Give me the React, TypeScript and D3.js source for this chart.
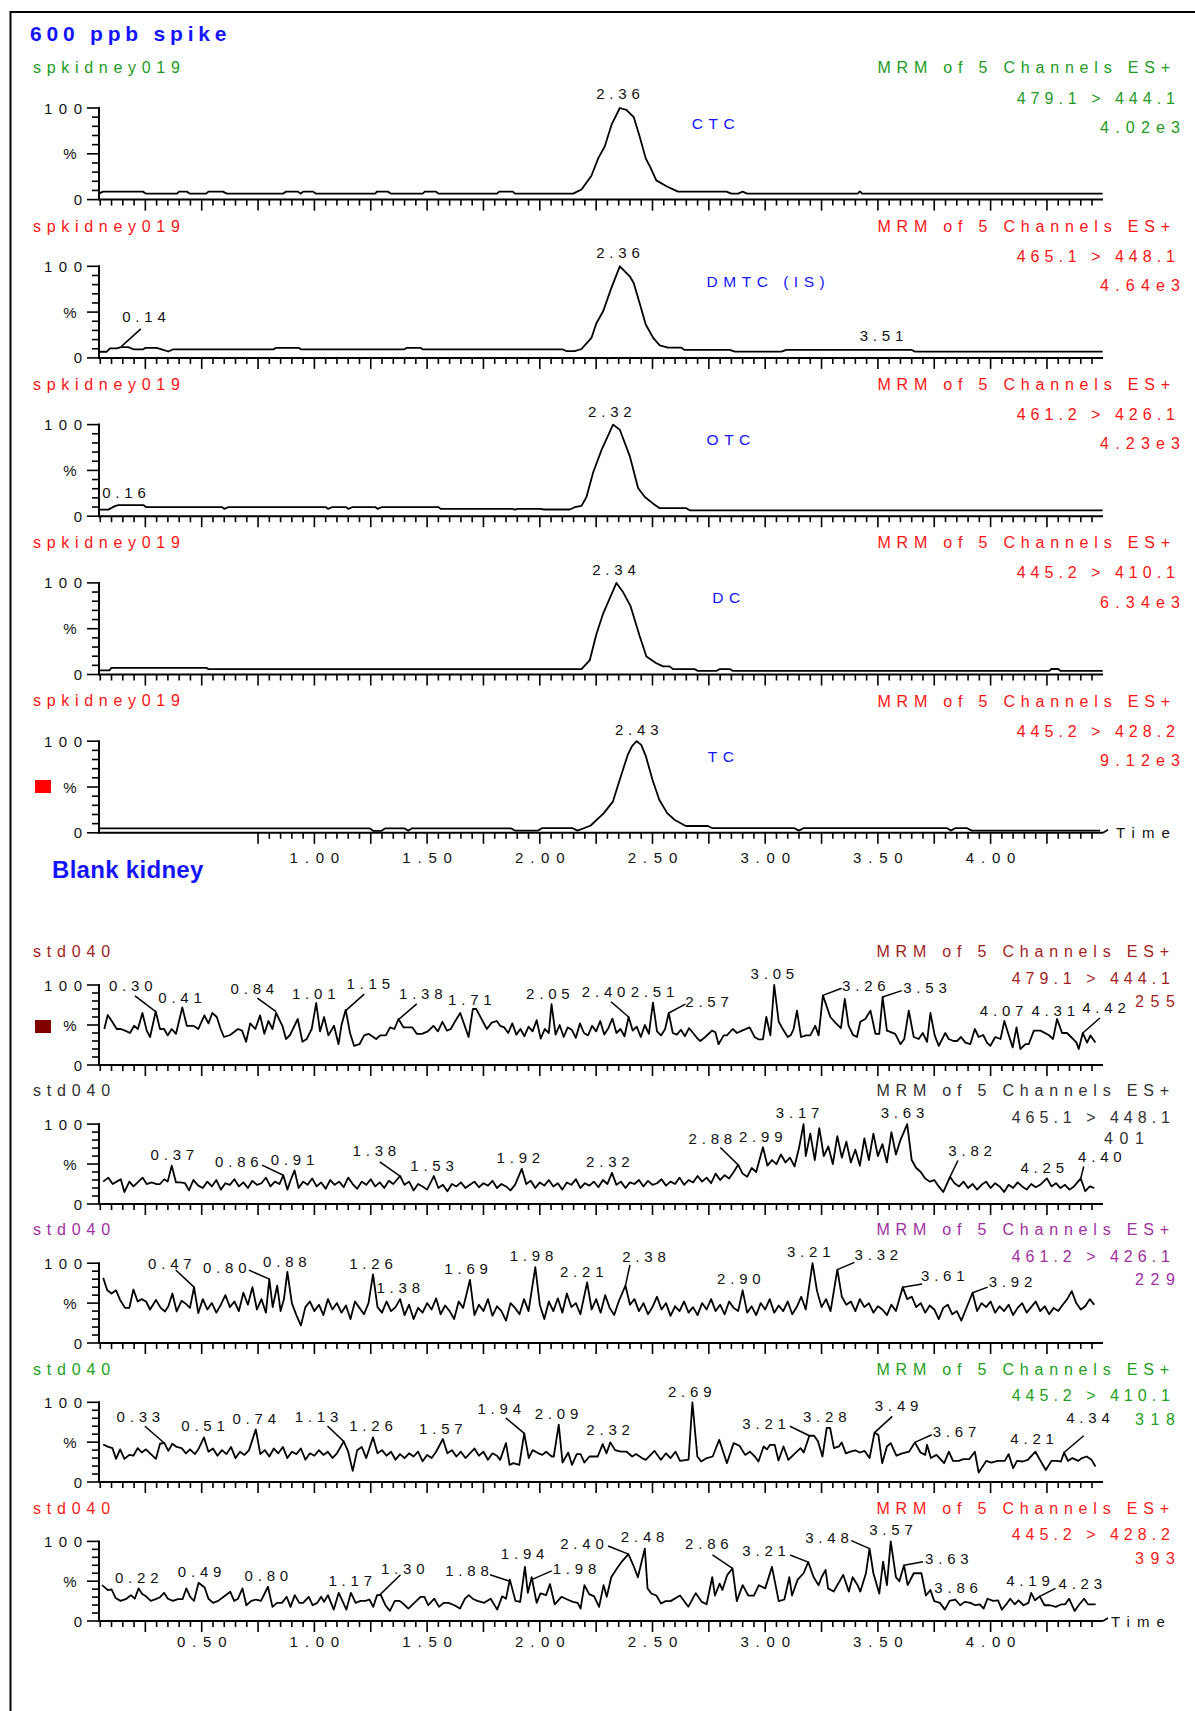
import React from 'react';
import * as d3 from 'd3';

type Pt = [number, number];
type Ann = { text: string; t: number; v: number; lead?: [number, number, number, number] };

// ---------------- DATA ----------------
const topSamples = ['spkidney019', 'spkidney019', 'spkidney019', 'spkidney019', 'spkidney019'];
const topTransitions = ['479.1 > 444.1', '465.1 > 448.1', '461.2 > 426.1', '445.2 > 410.1', '445.2 > 428.2'];
const topIntensities = ['4.02e3', '4.64e3', '4.23e3', '6.34e3', '9.12e3'];
const topCompounds = ['CTC', 'DMTC (IS)', 'OTC', 'DC', 'TC'];
const compoundTimes = [2.674, 2.74, 2.74, 2.765, 2.745];

const bottomSamples = ['std040', 'std040', 'std040', 'std040', 'std040'];
const bottomTransitions = ['479.1 > 444.1', '465.1 > 448.1', '461.2 > 426.1', '445.2 > 410.1', '445.2 > 428.2'];
const bottomIntensities = ['255', '401', '229', '318', '393'];

const xTickLabelsTop = ['1.00', '1.50', '2.00', '2.50', '3.00', '3.50', '4.00'];
const xTickLabelsBottom = ['0.50', '1.00', '1.50', '2.00', '2.50', '3.00', '3.50', '4.00'];

const top1: Pt[] = [[0.044,6.5],[0.062,8.7],[0.239,8.7],[0.253,6.5],[0.39,6.5],[0.40,8.7],[0.434,8.7],[0.448,6.5],[0.52,6.5],[0.53,8.7],[0.594,8.7],[0.612,6.5],[0.86,6.5],[0.874,8.7],[0.927,8.7],[0.94,6.5],[0.95,8.7],[0.994,8.7],[1.007,6.5],[1.27,6.5],[1.277,8.7],[1.326,8.7],[1.34,6.5],[1.48,6.5],[1.49,8.7],[1.54,8.7],[1.55,6.5],[1.81,6.5],[1.82,8.7],[1.88,8.7],[1.89,6.5],[2.148,6.5],[2.185,11],[2.229,26],[2.259,45],[2.288,58],[2.318,81.5],[2.355,100],[2.384,98],[2.417,90],[2.443,69],[2.47,45],[2.49,35.4],[2.517,21],[2.562,14.6],[2.613,8.7],[2.828,8.7],[2.85,6.5],[2.88,6.5],[2.90,8.7],[2.92,6.5],[3.41,6.5],[3.42,9],[3.43,6.5],[4.497,6.5]];
const top2: Pt[] = [[0.044,6.7],[0.078,6.7],[0.093,10.5],[0.123,10.5],[0.142,11.7],[0.174,11.7],[0.197,9.4],[0.241,9.4],[0.251,11],[0.30,11],[0.322,9.4],[0.352,7],[0.374,9.4],[0.82,9.4],[0.83,11],[0.93,11],[0.94,9.4],[1.40,9.4],[1.41,11],[1.47,11],[1.48,9.4],[2.10,9.4],[2.12,7.3],[2.155,7.3],[2.185,9.7],[2.229,21.8],[2.251,37.9],[2.281,51],[2.318,76.7],[2.355,100],[2.40,88.8],[2.417,81.5],[2.443,59.7],[2.47,36.4],[2.503,21.8],[2.532,13.6],[2.569,11.2],[2.628,11.2],[2.643,8.7],[2.843,8.7],[2.865,6.8],[3.072,6.8],[3.094,8.7],[3.65,8.7],[3.665,6.8],[4.497,6.8]];
const top3: Pt[] = [[0.044,7.2],[0.086,7.2],[0.115,11],[0.13,12.2],[0.241,12.2],[0.253,10],[0.59,10],[0.60,8],[0.62,10],[1.05,10],[1.06,8],[1.08,10],[1.14,10],[1.15,8],[1.17,10],[1.27,10],[1.28,8],[1.30,10],[1.55,10],[1.56,8],[1.88,8],[1.89,7],[1.90,8],[2.0,8],[2.02,7.3],[2.133,7.3],[2.155,9.8],[2.185,11.3],[2.207,21],[2.237,48],[2.274,72.4],[2.325,100],[2.355,94.4],[2.40,65],[2.436,30.8],[2.466,21],[2.503,13.7],[2.532,8.8],[2.65,8.8],[2.665,6.4],[4.497,6.4]];
const top4: Pt[] = [[0.044,4.5],[0.09,4.5],[0.10,7.3],[0.52,7.3],[0.53,5.9],[2.185,5.9],[2.222,15.8],[2.251,44],[2.281,66.5],[2.34,100],[2.37,89.7],[2.402,75],[2.443,42],[2.473,19.7],[2.517,12.3],[2.547,8.9],[2.576,8.9],[2.591,5.9],[2.687,5.9],[2.702,3.9],[2.783,3.9],[2.798,5.9],[2.843,5.9],[2.857,3.9],[4.26,3.9],[4.27,6],[4.30,6],[4.31,3.9],[4.497,3.9]];
const top5: Pt[] = [[0.044,4.8],[1.246,4.8],[1.26,2.2],[1.298,2.2],[1.313,4.8],[1.401,4.8],[1.416,2.2],[1.431,4.8],[1.874,4.8],[1.889,2.4],[1.993,2.4],[2.009,5],[2.146,5],[2.167,2.4],[2.195,5],[2.226,8],[2.284,21.5],[2.324,34],[2.36,62],[2.39,85],[2.41,95],[2.43,100],[2.45,96],[2.47,84],[2.50,58],[2.53,36],[2.565,21.5],[2.599,14],[2.648,7.4],[2.746,7.4],[2.766,5],[3.13,5],[3.149,2.4],[3.169,5],[3.808,5],[3.823,2.4],[3.843,5],[3.896,5],[3.916,2.4],[4.486,2.4]];

const bot1: Pt[] = [[0.068,45],[0.083,62.5],[0.101,55],[0.123,45],[0.141,45],[0.160,43],[0.182,40],[0.200,49],[0.217,45],[0.237,65],[0.256,43],[0.271,35],[0.296,67],[0.315,45],[0.333,45],[0.349,37],[0.367,45],[0.386,39],[0.414,72],[0.434,49],[0.463,49],[0.485,45],[0.512,62],[0.530,52],[0.547,65],[0.567,60],[0.584,45],[0.599,35],[0.626,37.5],[0.661,45],[0.679,43],[0.697,29],[0.715,52],[0.738,45],[0.759,62],[0.778,39],[0.796,55],[0.814,45],[0.830,65],[0.858,49],[0.874,32.5],[0.892,37.5],[0.926,57.5],[0.947,29],[0.966,32.5],[0.988,45],[1.008,77.5],[1.025,42],[1.043,60],[1.062,37],[1.087,49],[1.107,26],[1.121,51],[1.139,69],[1.158,40],[1.176,24],[1.2,26],[1.221,37],[1.24,39],[1.274,32.5],[1.292,37],[1.317,37],[1.336,47],[1.355,45],[1.373,57.5],[1.395,47],[1.435,47],[1.454,39],[1.477,39],[1.503,42],[1.528,49],[1.548,42],[1.568,54],[1.588,43],[1.605,45],[1.625,55],[1.647,65],[1.684,35],[1.703,70],[1.718,70],[1.765,45],[1.787,53],[1.809,55],[1.824,49],[1.842,47],[1.86,40],[1.878,52],[1.896,38],[1.914,45],[1.932,36],[1.95,48],[1.968,42],[1.986,56],[2.004,33],[2.022,45],[2.04,40],[2.052,76],[2.07,38],[2.088,50],[2.106,35],[2.124,47],[2.142,44],[2.16,34],[2.178,52],[2.196,40],[2.214,37],[2.232,49],[2.25,42],[2.268,55],[2.286,38],[2.304,46],[2.322,58],[2.34,40],[2.358,45],[2.376,36],[2.394,60],[2.412,43],[2.43,48],[2.448,35],[2.466,50],[2.484,39],[2.502,78],[2.52,42],[2.538,37],[2.556,45],[2.572,65],[2.59,40],[2.608,38],[2.626,44],[2.644,36],[2.662,46],[2.68,40],[2.70,33],[2.712,30],[2.734,35],[2.764,43],[2.779,41],[2.793,26],[2.816,37],[2.83,37],[2.856,45],[2.875,40],[2.897,43],[2.931,47],[2.953,35],[2.971,32],[2.99,32],[3.005,60],[3.023,37],[3.04,100],[3.06,54],[3.082,43],[3.10,35],[3.114,37.5],[3.126,45],[3.141,68],[3.159,35],[3.182,37],[3.20,37],[3.222,49],[3.237,37],[3.256,87],[3.289,60],[3.311,53],[3.336,46],[3.353,82.5],[3.37,49],[3.39,37.5],[3.407,35],[3.422,54],[3.444,57.5],[3.467,68],[3.489,39],[3.506,39],[3.521,85],[3.54,43],[3.577,39],[3.60,26],[3.617,32.5],[3.637,68],[3.659,35],[3.681,32.5],[3.699,40],[3.718,29],[3.733,65],[3.752,37],[3.77,24],[3.799,40],[3.814,32.5],[3.836,30],[3.851,30],[3.869,35],[3.888,28],[3.91,26],[3.93,45],[3.947,35],[3.967,37.5],[3.984,28],[3.999,24],[4.021,35],[4.044,32.5],[4.061,55],[4.081,37],[4.098,22],[4.115,47],[4.132,20],[4.155,26],[4.169,26],[4.192,43],[4.221,43],[4.258,37.5],[4.277,32.5],[4.295,57.5],[4.317,40],[4.339,40],[4.366,32.5],[4.381,28],[4.391,20],[4.409,40],[4.428,28],[4.443,37],[4.465,28]];

const bot2: Pt[] = [[0.063,28],[0.086,33],[0.105,25],[0.123,28],[0.141,31],[0.157,15],[0.179,28],[0.197,22],[0.216,27],[0.238,33],[0.256,25],[0.278,27],[0.30,25],[0.315,25],[0.334,31],[0.349,28],[0.367,48],[0.386,27],[0.404,27],[0.426,26],[0.444,17],[0.463,30],[0.485,23],[0.505,20],[0.525,28],[0.545,22],[0.565,30],[0.585,18],[0.605,26],[0.625,24],[0.645,31],[0.665,22],[0.685,27],[0.705,20],[0.725,29],[0.745,24],[0.765,26],[0.785,33],[0.805,22],[0.825,28],[0.845,25],[0.862,36],[0.88,18],[0.895,30],[0.912,42],[0.93,20],[0.95,28],[0.97,24],[0.99,32],[1.01,22],[1.03,27],[1.05,19],[1.07,30],[1.09,24],[1.11,28],[1.13,21],[1.15,33],[1.17,25],[1.19,19],[1.21,28],[1.23,24],[1.25,31],[1.27,22],[1.29,27],[1.31,20],[1.33,29],[1.35,25],[1.38,35],[1.40,24],[1.42,28],[1.44,17],[1.46,25],[1.48,22],[1.50,18],[1.53,35],[1.55,20],[1.57,24],[1.59,16],[1.61,25],[1.63,22],[1.65,27],[1.67,20],[1.69,24],[1.71,28],[1.73,21],[1.75,26],[1.77,23],[1.79,29],[1.81,20],[1.83,25],[1.85,22],[1.87,17],[1.89,24],[1.92,44],[1.94,25],[1.96,29],[1.98,20],[2.00,27],[2.02,23],[2.04,30],[2.06,22],[2.08,26],[2.10,18],[2.12,27],[2.14,24],[2.16,31],[2.18,20],[2.20,26],[2.22,23],[2.24,28],[2.26,21],[2.28,30],[2.30,25],[2.32,39],[2.34,24],[2.36,28],[2.38,20],[2.40,27],[2.42,25],[2.44,30],[2.46,22],[2.48,29],[2.50,24],[2.52,26],[2.54,31],[2.56,23],[2.58,28],[2.60,25],[2.62,33],[2.64,24],[2.66,30],[2.68,27],[2.70,35],[2.72,28],[2.74,33],[2.76,26],[2.78,38],[2.80,30],[2.82,36],[2.84,32],[2.86,40],[2.88,49],[2.90,38],[2.92,34],[2.94,45],[2.96,40],[2.99,71],[3.01,48],[3.03,55],[3.05,50],[3.07,62],[3.09,52],[3.11,58],[3.13,47],[3.15,70],[3.17,100],[3.18,60],[3.20,88],[3.22,55],[3.24,95],[3.26,60],[3.28,72],[3.30,50],[3.32,85],[3.34,58],[3.36,78],[3.38,52],[3.40,68],[3.42,48],[3.44,82],[3.46,55],[3.48,88],[3.50,60],[3.52,75],[3.54,52],[3.56,90],[3.58,62],[3.60,80],[3.63,100],[3.65,55],[3.67,45],[3.69,40],[3.71,32],[3.73,28],[3.75,30],[3.77,22],[3.79,15],[3.82,34],[3.84,26],[3.86,22],[3.88,28],[3.90,20],[3.92,25],[3.94,18],[3.96,24],[3.98,28],[4.00,20],[4.02,26],[4.04,22],[4.06,15],[4.08,24],[4.10,20],[4.12,27],[4.14,22],[4.16,18],[4.18,25],[4.20,21],[4.22,24],[4.25,32],[4.27,22],[4.29,26],[4.31,20],[4.33,24],[4.35,18],[4.37,22],[4.40,32],[4.42,16],[4.44,22],[4.46,20]];

const bot3: Pt[] = [[0.063,81.6],[0.081,66],[0.10,62],[0.12,66],[0.138,54],[0.16,44],[0.179,44],[0.197,67],[0.216,52],[0.234,55],[0.253,52],[0.271,42],[0.297,54],[0.318,44],[0.337,39.5],[0.352,46],[0.37,62],[0.389,39.5],[0.411,53],[0.43,49],[0.448,44],[0.466,70],[0.485,37.5],[0.505,55],[0.525,42],[0.545,50],[0.565,38],[0.585,48],[0.605,60],[0.625,45],[0.645,52],[0.665,40],[0.685,63],[0.705,48],[0.725,70],[0.745,42],[0.765,55],[0.785,38],[0.80,80],[0.815,45],[0.835,72],[0.85,40],[0.865,55],[0.88,89],[0.90,50],[0.92,35],[0.94,22],[0.96,45],[0.98,52],[1.00,40],[1.02,48],[1.04,35],[1.06,55],[1.08,42],[1.10,50],[1.12,38],[1.14,47],[1.16,30],[1.18,52],[1.20,44],[1.22,36],[1.24,50],[1.26,86],[1.28,45],[1.30,38],[1.32,52],[1.34,40],[1.36,45],[1.38,55],[1.40,35],[1.42,48],[1.44,30],[1.46,44],[1.48,38],[1.50,50],[1.52,42],[1.54,56],[1.56,36],[1.58,47],[1.60,40],[1.62,30],[1.64,52],[1.66,44],[1.69,79],[1.71,35],[1.73,48],[1.75,40],[1.77,55],[1.79,34],[1.81,46],[1.83,40],[1.85,28],[1.87,50],[1.89,44],[1.91,36],[1.93,55],[1.95,40],[1.98,95],[2.00,48],[2.02,30],[2.04,52],[2.06,40],[2.08,56],[2.10,38],[2.12,62],[2.14,45],[2.16,50],[2.18,36],[2.21,76],[2.23,42],[2.25,55],[2.27,38],[2.29,60],[2.31,44],[2.33,35],[2.35,52],[2.38,72],[2.40,48],[2.42,55],[2.44,40],[2.46,50],[2.48,36],[2.50,45],[2.52,58],[2.54,42],[2.56,50],[2.58,34],[2.60,46],[2.62,40],[2.64,52],[2.66,38],[2.68,45],[2.70,35],[2.72,50],[2.74,42],[2.76,55],[2.78,40],[2.80,48],[2.82,36],[2.84,52],[2.86,44],[2.88,40],[2.90,66],[2.92,38],[2.94,46],[2.96,35],[2.98,50],[3.00,42],[3.02,55],[3.04,38],[3.06,47],[3.08,40],[3.10,52],[3.12,36],[3.14,45],[3.16,58],[3.18,42],[3.21,100],[3.23,65],[3.25,45],[3.27,55],[3.29,40],[3.32,92],[3.34,58],[3.36,48],[3.38,52],[3.40,40],[3.42,55],[3.44,45],[3.46,50],[3.48,38],[3.50,46],[3.52,42],[3.54,35],[3.56,48],[3.58,40],[3.61,70],[3.63,55],[3.65,58],[3.67,45],[3.69,50],[3.71,38],[3.73,47],[3.75,42],[3.77,30],[3.79,44],[3.81,48],[3.83,36],[3.85,40],[3.87,28],[3.89,42],[3.92,63],[3.94,40],[3.96,50],[3.98,45],[4.00,52],[4.02,38],[4.04,46],[4.06,40],[4.08,48],[4.10,35],[4.12,44],[4.14,50],[4.16,38],[4.18,45],[4.20,52],[4.22,40],[4.24,46],[4.26,36],[4.28,44],[4.30,40],[4.32,48],[4.34,55],[4.36,65],[4.38,50],[4.40,42],[4.42,46],[4.44,55],[4.46,48]];

const bot4: Pt[] = [[0.063,47],[0.086,44],[0.104,42.5],[0.12,29],[0.138,41],[0.157,29],[0.179,34],[0.197,33],[0.216,42.5],[0.234,37],[0.253,41],[0.271,36],[0.297,29],[0.315,48],[0.334,49],[0.352,39],[0.37,48],[0.389,44],[0.411,42.5],[0.43,36],[0.448,41],[0.47,35],[0.485,41],[0.51,56],[0.53,38],[0.55,42],[0.57,33],[0.59,40],[0.61,35],[0.63,44],[0.65,30],[0.67,38],[0.69,34],[0.71,40],[0.74,66],[0.76,35],[0.78,40],[0.80,32],[0.82,42],[0.84,36],[0.86,44],[0.88,30],[0.90,38],[0.92,35],[0.94,42],[0.96,28],[0.98,36],[1.00,33],[1.02,40],[1.04,34],[1.06,38],[1.08,30],[1.10,36],[1.13,51],[1.15,38],[1.17,14],[1.19,40],[1.21,44],[1.23,30],[1.26,56],[1.28,36],[1.30,40],[1.32,33],[1.34,38],[1.36,28],[1.38,35],[1.40,30],[1.42,36],[1.44,32],[1.46,38],[1.48,26],[1.50,34],[1.52,30],[1.54,38],[1.57,54],[1.59,36],[1.61,40],[1.63,32],[1.65,38],[1.67,30],[1.69,36],[1.71,42],[1.73,33],[1.75,38],[1.77,28],[1.79,36],[1.81,33],[1.824,27.8],[1.85,48.8],[1.866,21.5],[1.883,23.6],[1.909,21.5],[1.931,61],[1.951,30],[1.968,40],[1.994,36],[2.011,34],[2.028,38],[2.053,32],[2.062,32],[2.084,72],[2.101,24.4],[2.126,37],[2.143,21.5],[2.164,35],[2.181,35],[2.198,24.4],[2.22,32],[2.257,32],[2.279,47.6],[2.296,36],[2.313,49.7],[2.334,40],[2.359,38],[2.385,38],[2.41,32],[2.427,35],[2.453,30],[2.47,27.8],[2.509,39],[2.537,27.8],[2.56,36],[2.58,30],[2.602,38],[2.622,26.5],[2.66,28],[2.677,100],[2.699,32],[2.716,25.7],[2.741,30],[2.767,32],[2.796,53],[2.818,34],[2.83,23.6],[2.86,48.8],[2.886,45.5],[2.911,34],[2.932,38],[2.954,32],[2.97,25.7],[2.993,44.6],[3.008,41],[3.022,46.7],[3.042,46.7],[3.059,27],[3.081,44.6],[3.103,27.8],[3.132,36],[3.157,42.5],[3.171,37],[3.196,58],[3.217,58],[3.234,51],[3.254,32],[3.273,67.8],[3.288,67.8],[3.305,42.5],[3.327,44.6],[3.339,49.7],[3.358,36],[3.378,38],[3.40,39.6],[3.42,37],[3.441,39],[3.463,30],[3.485,62],[3.502,59],[3.519,23.6],[3.54,44.6],[3.557,48.8],[3.582,33],[3.608,36],[3.638,38],[3.664,49.7],[3.689,37],[3.71,34],[3.718,46.7],[3.735,30],[3.76,34],[3.794,23.6],[3.815,38],[3.833,26.5],[3.859,26.5],[3.879,28.6],[3.905,28.6],[3.93,38],[3.947,11.8],[3.981,26.5],[4.003,24.4],[4.032,26.5],[4.063,26.5],[4.08,35],[4.10,17.3],[4.117,26.5],[4.143,25.7],[4.165,27.8],[4.199,38],[4.219,27.8],[4.245,15],[4.27,26.5],[4.296,26.5],[4.312,25.7],[4.326,37],[4.343,26.5],[4.363,30],[4.389,26.5],[4.406,30],[4.426,32],[4.448,27.8],[4.465,19.4]];

const bot5: Pt[] = [[0.058,45],[0.084,38.8],[0.10,39.7],[0.118,29],[0.14,25.3],[0.163,27.4],[0.186,32.5],[0.203,28],[0.22,41],[0.236,33.8],[0.253,31],[0.274,25.3],[0.296,27.4],[0.313,29.5],[0.333,35.4],[0.35,28],[0.372,25.3],[0.394,27.4],[0.415,27.4],[0.432,41],[0.449,30.4],[0.466,25.3],[0.486,48],[0.513,42],[0.53,28],[0.551,22.8],[0.573,25.3],[0.593,29.5],[0.627,36.7],[0.644,25.3],[0.661,28],[0.681,41],[0.698,19.8],[0.72,25.3],[0.741,27],[0.763,25.3],[0.794,43],[0.814,17.7],[0.834,22.8],[0.856,22.8],[0.877,30.4],[0.894,17.7],[0.913,32.5],[0.933,22.8],[0.95,22.8],[0.975,30.4],[0.992,19.8],[1.013,22.8],[1.03,30.4],[1.043,24],[1.06,32.5],[1.086,14.3],[1.108,35.4],[1.142,14.3],[1.162,35.4],[1.183,22.8],[1.205,25.3],[1.227,25.3],[1.244,27],[1.261,17.7],[1.278,32.5],[1.295,32.5],[1.315,19.8],[1.335,12.7],[1.357,25.3],[1.378,25.3],[1.397,21],[1.417,15.6],[1.448,24],[1.471,30.4],[1.488,30.4],[1.505,19.8],[1.532,28],[1.553,17.7],[1.573,22.8],[1.595,22.8],[1.621,19.8],[1.646,15.6],[1.668,28],[1.685,32.5],[1.702,28],[1.723,25.3],[1.753,22.8],[1.782,28],[1.811,14.3],[1.833,31],[1.85,28],[1.867,52],[1.892,25.3],[1.913,24],[1.934,68],[1.947,35.4],[1.964,55],[1.986,22.8],[2.003,34.6],[2.028,32.5],[2.045,46.4],[2.066,21],[2.096,30.4],[2.122,27],[2.147,24],[2.168,22.8],[2.181,15.6],[2.198,45],[2.219,33.8],[2.241,31],[2.263,17.7],[2.283,45],[2.297,30.4],[2.317,55],[2.342,66],[2.365,75],[2.393,84],[2.415,70],[2.435,55],[2.466,91],[2.478,41],[2.495,34.5],[2.517,32],[2.538,22],[2.558,25],[2.58,25],[2.622,32],[2.659,18],[2.692,35],[2.719,24],[2.74,21],[2.765,55],[2.777,32],[2.798,47],[2.81,39],[2.832,58],[2.855,66],[2.874,25],[2.90,45],[2.925,32],[2.95,32],[2.972,45],[3.0,41],[3.03,68],[3.06,25],[3.085,27],[3.107,55],[3.119,32],[3.144,52],[3.17,60],[3.191,74],[3.215,55],[3.237,45],[3.25,55],[3.268,64],[3.279,41],[3.304,37],[3.346,58],[3.371,37],[3.388,55],[3.41,45],[3.422,37],[3.447,60],[3.463,91],[3.48,60],[3.506,34.5],[3.523,74.5],[3.54,45],[3.557,100],[3.58,55],[3.595,50],[3.616,70],[3.632,45],[3.659,60],[3.693,60],[3.713,32],[3.733,39],[3.75,25],[3.775,22.8],[3.797,14.3],[3.818,25.2],[3.843,27],[3.865,19.8],[3.885,24],[3.91,22.8],[3.932,19.8],[3.952,21],[3.969,15.6],[3.986,28],[4.011,25.2],[4.033,26],[4.05,14.3],[4.07,21],[4.087,28],[4.107,21],[4.124,26],[4.146,19.8],[4.168,22.8],[4.18,35.3],[4.197,26],[4.218,31],[4.239,19.8],[4.264,19.8],[4.289,17.7],[4.315,21],[4.331,21],[4.348,28],[4.373,12.6],[4.394,21],[4.415,28],[4.432,21],[4.466,21]];

const topSeries = [top1, top2, top3, top4, top5];
const bottomSeries = [bot1, bot2, bot3, bot4, bot5];

const topAnnotations: Ann[][] = [
  [{ text: '2.36', t: 2.347, v: 115.6 }],
  [{ text: '2.36', t: 2.347, v: 115 }, { text: '0.14', t: 0.244, v: 45.6, lead: [0.23, 31.7, 0.144, 12.6] }, { text: '3.51', t: 3.516, v: 24.5 }],
  [{ text: '2.32', t: 2.311, v: 114.8 }, { text: '0.16', t: 0.155, v: 26 }],
  [{ text: '2.34', t: 2.329, v: 114.5 }],
  [{ text: '2.43', t: 2.43, v: 112.6 }],
];

const bottomAnnotations: Ann[][] = [
  [
    { text: '0.30', t: 0.185, v: 99, lead: [0.204, 86.3, 0.296, 66.8] },
    { text: '0.41', t: 0.404, v: 84 },
    { text: '0.84', t: 0.725, v: 96, lead: [0.747, 83.5, 0.83, 66.8] },
    { text: '1.01', t: 0.997, v: 89.7 },
    { text: '1.15', t: 1.239, v: 102, lead: [1.221, 88.6, 1.139, 68] },
    { text: '1.38', t: 1.472, v: 88.8, lead: [1.454, 76.4, 1.372, 56.5] },
    { text: '1.71', t: 1.69, v: 82 },
    { text: '2.05', t: 2.036, v: 90 },
    { text: '2.40', t: 2.283, v: 92.5, lead: [2.316, 79, 2.394, 60] },
    { text: '2.51', t: 2.50, v: 92.5 },
    { text: '2.57', t: 2.742, v: 79, lead: [2.646, 76, 2.572, 65] },
    { text: '3.05', t: 3.032, v: 114 },
    { text: '3.26', t: 3.438, v: 99, lead: [3.339, 96, 3.256, 87] },
    { text: '3.53', t: 3.709, v: 96.6, lead: [3.606, 93, 3.521, 85] },
    { text: '4.07', t: 4.049, v: 67.7 },
    { text: '4.31', t: 4.278, v: 67.7 },
    { text: '4.42', t: 4.503, v: 71.8, lead: [4.485, 58.8, 4.409, 40] },
  ],
  [
    { text: '0.37', t: 0.37, v: 62.5 },
    { text: '0.86', t: 0.656, v: 52.8, lead: [0.768, 48.7, 0.862, 36] },
    { text: '0.91', t: 0.903, v: 55.7 },
    { text: '1.38', t: 1.266, v: 66.7, lead: [1.29, 52.8, 1.38, 35] },
    { text: '1.53', t: 1.522, v: 48.7 },
    { text: '1.92', t: 1.905, v: 58 },
    { text: '2.32', t: 2.302, v: 52.8 },
    { text: '2.88', t: 2.757, v: 81.8, lead: [2.801, 70.8, 2.88, 49] },
    { text: '2.99', t: 2.98, v: 84.6 },
    { text: '3.17', t: 3.144, v: 115 },
    { text: '3.63', t: 3.609, v: 115 },
    { text: '3.82', t: 3.909, v: 66.7, lead: [3.855, 54.4, 3.82, 34] },
    { text: '4.25', t: 4.229, v: 46 },
    { text: '4.40', t: 4.485, v: 60, lead: [4.413, 47, 4.40, 32] },
  ],
  [
    { text: '0.47', t: 0.359, v: 100, lead: [0.385, 91.4, 0.466, 70] },
    { text: '0.80', t: 0.602, v: 94.3, lead: [0.709, 91.4, 0.80, 80] },
    { text: '0.88', t: 0.869, v: 102.7 },
    { text: '1.26', t: 1.251, v: 100 },
    { text: '1.38', t: 1.372, v: 69.3 },
    { text: '1.69', t: 1.673, v: 92.9 },
    { text: '1.98', t: 1.963, v: 109.6 },
    { text: '2.21', t: 2.186, v: 90 },
    { text: '2.38', t: 2.462, v: 108, lead: [2.40, 98, 2.38, 72] },
    { text: '2.90', t: 2.883, v: 80.3 },
    { text: '3.21', t: 3.193, v: 115 },
    { text: '3.32', t: 3.493, v: 111, lead: [3.396, 101, 3.32, 92] },
    { text: '3.61', t: 3.788, v: 84.5, lead: [3.696, 74, 3.61, 70] },
    { text: '3.92', t: 4.088, v: 77.5, lead: [3.987, 70, 3.92, 63] },
  ],
  [
    { text: '0.33', t: 0.219, v: 81.7, lead: [0.248, 70, 0.334, 49] },
    { text: '0.51', t: 0.506, v: 70.3 },
    { text: '0.74', t: 0.733, v: 80 },
    { text: '1.13', t: 1.009, v: 82.7, lead: [1.058, 70.3, 1.13, 51] },
    { text: '1.26', t: 1.251, v: 70.3 },
    { text: '1.57', t: 1.561, v: 67.5 },
    { text: '1.94', t: 1.82, v: 92.4, lead: [1.849, 80.4, 1.931, 61] },
    { text: '2.09', t: 2.074, v: 85.9 },
    { text: '2.32', t: 2.303, v: 65.7 },
    { text: '2.69', t: 2.665, v: 113 },
    { text: '3.21', t: 2.995, v: 73.2, lead: [3.11, 70, 3.196, 58] },
    { text: '3.28', t: 3.264, v: 81.7 },
    { text: '3.49', t: 3.583, v: 96, lead: [3.564, 82.4, 3.485, 62] },
    { text: '3.67', t: 3.84, v: 62.8, lead: [3.739, 59.3, 3.664, 49.7] },
    { text: '4.21', t: 4.184, v: 55.2 },
    { text: '4.34', t: 4.432, v: 80.4, lead: [4.413, 58, 4.326, 37] },
  ],
  [
    { text: '0.22', t: 0.212, v: 54.5 },
    { text: '0.49', t: 0.491, v: 62 },
    { text: '0.80', t: 0.787, v: 56.6 },
    { text: '1.17', t: 1.159, v: 51 },
    { text: '1.30', t: 1.392, v: 66, lead: [1.382, 58, 1.289, 32.5] },
    { text: '1.88', t: 1.677, v: 63.6, lead: [1.779, 58, 1.867, 50] },
    { text: '1.94', t: 1.924, v: 84.3 },
    { text: '1.98', t: 2.154, v: 66, lead: [2.053, 63, 1.964, 52] },
    { text: '2.40', t: 2.187, v: 97, lead: [2.303, 94.3, 2.393, 84] },
    { text: '2.48', t: 2.456, v: 106 },
    { text: '2.86', t: 2.741, v: 97, lead: [2.766, 83, 2.855, 66] },
    { text: '3.21', t: 2.995, v: 88.4, lead: [3.11, 83, 3.191, 74] },
    { text: '3.48', t: 3.274, v: 105.4, lead: [3.382, 101, 3.463, 91] },
    { text: '3.57', t: 3.558, v: 114.5 },
    { text: '3.63', t: 3.806, v: 78.8, lead: [3.70, 74.5, 3.616, 70] },
    { text: '3.86', t: 3.847, v: 42.7 },
    { text: '4.19', t: 4.166, v: 51 },
    { text: '4.23', t: 4.398, v: 47, lead: [4.288, 41, 4.218, 31] },
  ],
];

// ---------------- STYLE / LAYOUT ----------------
const FONT = "'Liberation Sans', Arial, Helvetica, sans-serif";
const BLUE = '#1414ff';
const topColors = ['#229a22', '#ff1414', '#ff1414', '#ff1414', '#ff1414'];
const bottomColors = ['#a01e1e', '#303030', '#a030a0', '#22a022', '#ff1a1a'];

const xScale = d3.scaleLinear().domain([0, 4.5]).range([89, 89 + 225.4 * 4.5]);
const AXIS_X = 99;
const AXIS_END = 1103;

const topY100 = (i: number) => 108 + i * 158.3;
const topY0 = (i: number) => 199.6 + i * 158.3;
const botY100 = (j: number) => 985 + j * 139.1;
const botY0 = (j: number) => 1065 + j * 139.0;

function Txt(props: { x: number; y: number; s: string; size?: number; ls?: number; anchor?: 'start' | 'middle' | 'end'; fill?: string; weight?: number }) {
  const { x, y, s, size = 15, ls = 0, anchor = 'start', fill = '#111', weight = 400 } = props;
  const dx = anchor === 'end' ? ls : anchor === 'middle' ? ls / 2 : 0;
  return (
    <text x={x + dx} y={y} fontSize={size} letterSpacing={ls} textAnchor={anchor}
      dominantBaseline="central" fill={fill} fontWeight={weight} fontFamily={FONT}>{s}</text>
  );
}

function Chrom(props: {
  y100: number; y0: number; data: Pt[]; anns: Ann[]; tickFrom: number;
  xLabels?: string[]; xLabelDy?: number; timeX?: number;
}) {
  const { y100, y0, data, anns, tickFrom, xLabels, xLabelDy = 22, timeX } = props;
  const y = d3.scaleLinear().domain([0, 100]).range([y0, y100]);
  const line = d3.line<Pt>().x(d => xScale(d[0])).y(d => y(d[1]));
  const yTicks = d3.range(0, 101, 10);
  const xTicks = d3.range(Math.round(tickFrom / 0.05), 90);
  return (
    <g>
      <line x1={AXIS_X} x2={AXIS_X} y1={y(100) - 1} y2={y0 + 1} stroke="#000" strokeWidth={2} />
      {yTicks.map(v => (
        <line key={v} x1={v % 50 === 0 ? AXIS_X - 12 : AXIS_X - 7} x2={AXIS_X} y1={y(v)} y2={y(v)} stroke="#000" strokeWidth={1.6} />
      ))}
      <Txt x={82} y={y(100)} s="100" anchor="end" ls={6.5} size={15} />
      <Txt x={70} y={y(50)} s="%" anchor="middle" size={15} />
      <Txt x={82} y={y(0)} s="0" anchor="end" size={15} />
      <line x1={AXIS_X} x2={AXIS_END} y1={y0} y2={y0} stroke="#000" strokeWidth={2} />
      {xTicks.map(k => (
        <line key={k} x1={xScale(k * 0.05)} x2={xScale(k * 0.05)} y1={y0} y2={y0 + (k % 5 === 0 ? 11 : 6)} stroke="#000" strokeWidth={1.6} />
      ))}
      {xLabels && xLabels.map(l => (
        <Txt key={l} x={xScale(+l)} y={y0 + xLabelDy} s={l} anchor="middle" ls={6.8} size={15} />
      ))}
      {timeX !== undefined && (
        <g>
          <line x1={AXIS_END} x2={AXIS_END + 5} y1={y0} y2={y0 - 3} stroke="#000" strokeWidth={1.6} />
          <Txt x={timeX} y={y0} s="Time" ls={7} size={15} />
        </g>
      )}
      <path d={line(data) || ''} fill="none" stroke="#000" strokeWidth={1.8} strokeLinejoin="round" />
      {anns.map((a, i) => (
        <g key={i}>
          {a.lead && (
            <line x1={xScale(a.lead[0])} y1={y(a.lead[1])} x2={xScale(a.lead[2])} y2={y(a.lead[3])} stroke="#000" strokeWidth={1.5} />
          )}
          <Txt x={xScale(a.t)} y={y(a.v)} s={a.text} anchor="middle" ls={4.8} size={15} />
        </g>
      ))}
    </g>
  );
}

export default function App() {
  return (
    <svg width={1195} height={1711} viewBox="0 0 1195 1711"
      style={{ position: 'absolute', left: 0, top: 0, background: '#fff' }}>
      <rect x={0} y={0} width={1195} height={1711} fill="#fff" />
      <line x1={10.5} x2={10.5} y1={11} y2={1711} stroke="#000" strokeWidth={2} />
      <line x1={10} x2={1195} y1={12} y2={12} stroke="#000" strokeWidth={2} />

      <Txt x={30} y={33} s="600 ppb spike" size={21} ls={4.8} weight={700} fill={BLUE} />

      {topSeries.map((data, i) => {
        const y100 = topY100(i);
        const y0 = topY0(i);
        const c = topColors[i];
        return (
          <g key={'t' + i}>
            <Txt x={33} y={y100 - 40.3} s={topSamples[i]} size={16} ls={5.7} fill={c} />
            <Txt x={1170} y={y100 - 40.2} s="MRM of 5 Channels ES+" size={16} ls={5.8} anchor="end" fill={c} />
            <Txt x={1175} y={y100 - 10} s={topTransitions[i]} size={16} ls={5.0} anchor="end" fill={c} />
            <Txt x={1180} y={y100 + 19.3} s={topIntensities[i]} size={16} ls={6.2} anchor="end" fill={c} />
            <Txt x={xScale(compoundTimes[i])} y={y100 + 15} s={topCompounds[i]} size={15.5} ls={5.5} fill={BLUE} />
            <Chrom y100={y100} y0={y0} data={data} anns={topAnnotations[i]}
              tickFrom={i === 4 ? 0.75 : 0.05}
              xLabels={i === 4 ? xTickLabelsTop : undefined} xLabelDy={24.5}
              timeX={i === 4 ? 1116 : undefined} />
          </g>
        );
      })}
      <rect x={35} y={780} width={16} height={13} fill="#ff0000" />

      <Txt x={52} y={869} s="Blank kidney" size={24} ls={0.3} weight={700} fill={BLUE} />

      {bottomSeries.map((data, j) => {
        const y100 = botY100(j);
        const y0 = botY0(j);
        const c = bottomColors[j];
        return (
          <g key={'b' + j}>
            <Txt x={33} y={y100 - 33.3} s={bottomSamples[j]} size={16} ls={5.8} fill={c} />
            <Txt x={1169} y={y100 - 33.3} s="MRM of 5 Channels ES+" size={16} ls={5.8} anchor="end" fill={c} />
            <Txt x={1170} y={y100 - 7} s={bottomTransitions[j]} size={16} ls={5.0} anchor="end" fill={c} />
            <Txt x={j === 1 ? 1144 : 1175} y={y100 + (j === 1 ? 14.5 : 16.7)} s={bottomIntensities[j]} size={16} ls={6.6} anchor="end" fill={c} />
            <Chrom y100={y100} y0={y0} data={data} anns={bottomAnnotations[j]}
              tickFrom={0.05}
              xLabels={j === 4 ? xTickLabelsBottom : undefined} xLabelDy={20}
              timeX={j === 4 ? 1111 : undefined} />
          </g>
        );
      })}
      <rect x={35} y={1020} width={16} height={13} fill="#800000" />
    </svg>
  );
}
